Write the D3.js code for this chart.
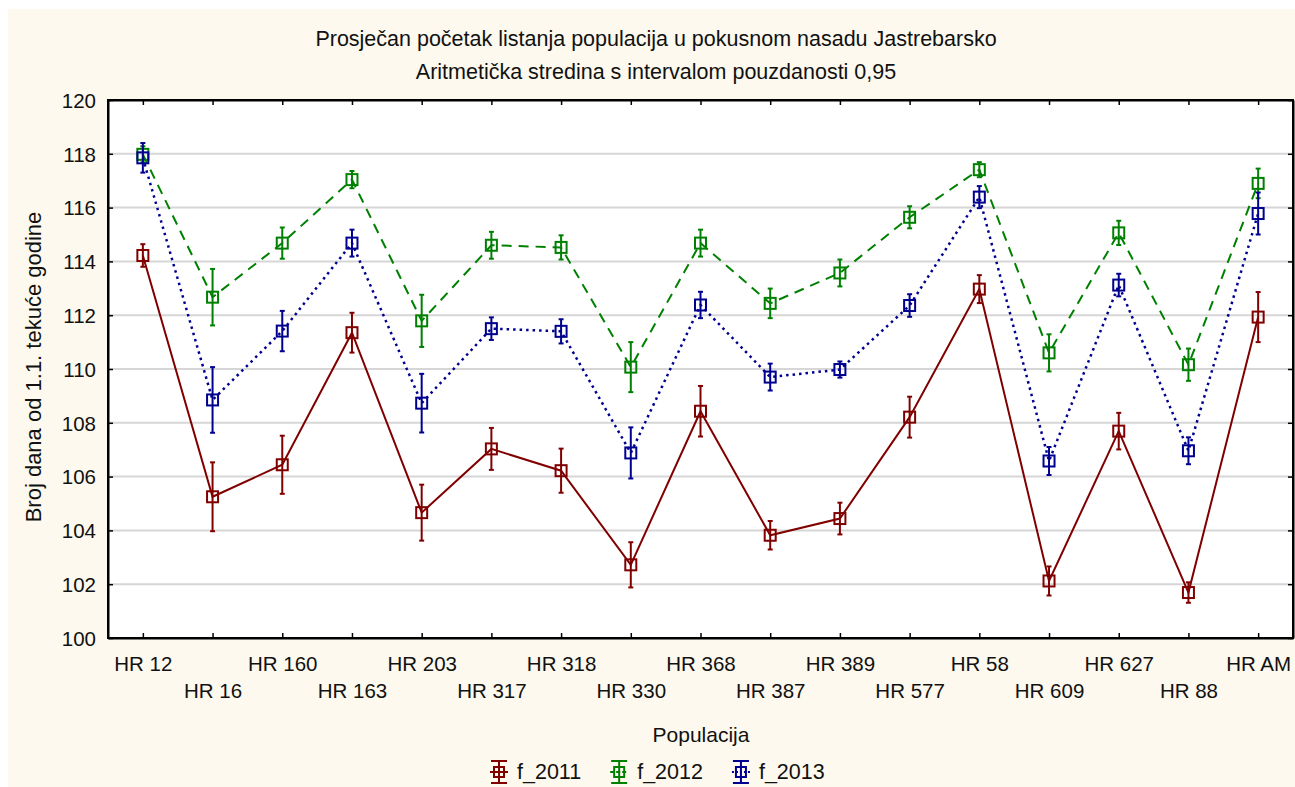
<!DOCTYPE html>
<html>
<head>
<meta charset="utf-8">
<script src="https://cdn.jsdelivr.net/npm/d3@7"></script>
<style>
  body { margin: 0; background: #ffffff; }
  svg text { font-family: "Liberation Sans", Arial, sans-serif; fill: #111; }
</style>
</head>
<body>
<svg id="chart" width="1295" height="787"></svg>
<script>
// categories (populations)
var populations = ["HR 12", "HR 16", "HR 160", "HR 163", "HR 203", "HR 317", "HR 318", "HR 330",
  "HR 368", "HR 387", "HR 389", "HR 577", "HR 58", "HR 609", "HR 627", "HR 88", "HR AM"];

// means per year
var f2011 = [114.22, 105.25, 106.44, 111.35, 104.66, 107.03, 106.22, 102.72, 108.43, 103.82, 104.44, 108.21, 112.97, 102.12, 107.69, 101.69, 111.93];
var f2012 = [117.98, 112.67, 114.68, 117.04, 111.79, 114.60, 114.52, 110.07, 114.68, 112.44, 113.57, 115.64, 117.41, 110.60, 115.06, 110.16, 116.90];
var f2013 = [117.85, 108.85, 111.41, 114.68, 108.73, 111.50, 111.40, 106.88, 112.38, 109.70, 109.98, 112.36, 116.39, 106.58, 113.12, 106.96, 115.78];

// half width of the 0.95 confidence interval
var ci2011 = [0.42, 1.28, 1.08, 0.74, 1.04, 0.78, 0.82, 0.84, 0.94, 0.53, 0.59, 0.76, 0.52, 0.54, 0.68, 0.38, 0.93];
var ci2012 = [0.30, 1.05, 0.58, 0.32, 0.97, 0.50, 0.45, 0.93, 0.50, 0.55, 0.50, 0.41, 0.28, 0.69, 0.45, 0.60, 0.55];
var ci2013 = [0.55, 1.22, 0.75, 0.50, 1.09, 0.42, 0.45, 0.95, 0.49, 0.50, 0.30, 0.42, 0.41, 0.52, 0.42, 0.50, 0.78];

var seriesNames = ["f_2011", "f_2012", "f_2013"];
var yTicks = [100, 102, 104, 106, 108, 110, 112, 114, 116, 118, 120];

var titleLines = ["Prosječan početak listanja populacija u pokusnom nasadu Jastrebarsko",
  "Aritmetička stredina s intervalom pouzdanosti 0,95"];
var xTitle = "Populacija";
var yTitle = "Broj dana od 1.1. tekuće godine";

var chart = (function(){

  var svg = d3.select("#chart");
  var plot = { left: 108, right: 1293, top: 100, bottom: 638 };
  var styles = [
    { color: "#800000", dash: null, width: 2 },
    { color: "#008000", dash: "10,7", width: 2 },
    { color: "#000090", dash: "2.5,4", width: 2.5 }
  ];
  var series = [
    { name: seriesNames[0], means: f2011, ci: ci2011 },
    { name: seriesNames[1], means: f2012, ci: ci2012 },
    { name: seriesNames[2], means: f2013, ci: ci2013 }
  ];

  var x = d3.scalePoint().domain(populations).range([plot.left, plot.right]).padding(0.5);
  var y = d3.scaleLinear().domain([100, 120]).range([plot.bottom, plot.top]);

  function draw_frame(){
    svg.append("rect").attr("x", 8).attr("y", 9).attr("width", 1287).attr("height", 778)
      .attr("fill", "#fdf9ee");
    svg.append("rect").attr("x", plot.left).attr("y", plot.top)
      .attr("width", plot.right - plot.left).attr("height", plot.bottom - plot.top)
      .attr("fill", "#ffffff");

    // horizontal grid
    svg.append("g").selectAll("line").data(yTicks.slice(1, -1)).enter().append("line")
      .attr("x1", plot.left).attr("x2", plot.right)
      .attr("y1", function(d){ return y(d); }).attr("y2", function(d){ return y(d); })
      .attr("stroke", "#d6d6d6").attr("stroke-width", 2);
  }

  function draw_axes(){
    var left = svg.append("g").attr("transform", "translate(" + plot.left + ",0)")
      .call(d3.axisLeft(y).tickValues(yTicks).tickSizeInner(-5).tickSizeOuter(0).tickPadding(12));
    var right = svg.append("g").attr("transform", "translate(" + plot.right + ",0)")
      .call(d3.axisRight(y).tickValues(yTicks).tickSizeInner(-5).tickSizeOuter(0).tickFormat(""));
    var bottom = svg.append("g").attr("transform", "translate(0," + plot.bottom + ")")
      .call(d3.axisBottom(x).tickSizeInner(-5).tickSizeOuter(0));
    var top = svg.append("g").attr("transform", "translate(0," + plot.top + ")")
      .call(d3.axisTop(x).tickSizeInner(-5).tickSizeOuter(0).tickFormat(""));

    [left, right, bottom, top].forEach(function(g){
      g.selectAll("path").attr("stroke", "#000").attr("stroke-width", 2);
      g.selectAll("line").attr("stroke", "#000").attr("stroke-width", 1.5);
      g.selectAll("text").style("font-size", "20.5px").attr("fill", "#111");
    });
    left.selectAll("text").attr("dy", "0.36em");

    // alternate category labels on two rows
    bottom.selectAll("text")
      .attr("dy", null)
      .attr("y", function(d, i){ return i % 2 === 0 ? 33 : 60; });

    // close the frame
    svg.append("rect").attr("x", plot.left).attr("y", plot.top)
      .attr("width", plot.right - plot.left).attr("height", plot.bottom - plot.top)
      .attr("fill", "none").attr("stroke", "#000").attr("stroke-width", 2);
  }

  function draw_series(s, k){
    var st = styles[k];
    var g = svg.append("g").attr("class", "series-" + k);
    var pts = s.means.map(function(m, i){ return { cat: populations[i], m: m, ci: s.ci[i] }; });

    var line = d3.line().x(function(d){ return x(d.cat); }).y(function(d){ return y(d.m); });
    g.append("path").datum(pts).attr("d", line)
      .attr("fill", "none").attr("stroke", st.color).attr("stroke-width", st.width)
      .attr("stroke-dasharray", st.dash);

    var bars = g.selectAll("g.bar").data(pts).enter().append("g").attr("class", "bar");
    bars.append("line")
      .attr("x1", function(d){ return x(d.cat); }).attr("x2", function(d){ return x(d.cat); })
      .attr("y1", function(d){ return y(d.m + d.ci); }).attr("y2", function(d){ return y(d.m - d.ci); })
      .attr("stroke", st.color).attr("stroke-width", 2);
    [1, -1].forEach(function(sign){
      bars.append("line")
        .attr("x1", function(d){ return x(d.cat) - 2.5; }).attr("x2", function(d){ return x(d.cat) + 2.5; })
        .attr("y1", function(d){ return y(d.m + sign * d.ci); }).attr("y2", function(d){ return y(d.m + sign * d.ci); })
        .attr("stroke", st.color).attr("stroke-width", 2);
    });
    bars.append("rect")
      .attr("x", function(d){ return x(d.cat) - 5.5; }).attr("y", function(d){ return y(d.m) - 5.5; })
      .attr("width", 11).attr("height", 11)
      .attr("fill", "none").attr("stroke", st.color).attr("stroke-width", 2);
  }

  function draw_texts(){
    svg.selectAll("text.title").data(titleLines).enter().append("text").attr("class", "title")
      .attr("x", 656).attr("y", function(d, i){ return 46 + i * 33; })
      .attr("text-anchor", "middle").style("font-size", "21.5px").text(function(d){ return d; });

    svg.append("text").attr("x", 701).attr("y", 742).attr("text-anchor", "middle")
      .style("font-size", "21px").text(xTitle);

    svg.append("text").attr("transform", "translate(41,367) rotate(-90)")
      .attr("text-anchor", "middle").style("font-size", "22px").text(yTitle);
  }

  function draw_legend(){
    var lx = 490, ly = 772;
    series.forEach(function(s, k){
      var st = styles[k];
      var g = svg.append("g").attr("transform", "translate(" + lx + "," + ly + ")");
      g.append("line").attr("x1", 9).attr("x2", 9).attr("y1", -11).attr("y2", 11)
        .attr("stroke", st.color).attr("stroke-width", 2);
      [-11, 11].forEach(function(yy){
        g.append("line").attr("x1", 1).attr("x2", 17).attr("y1", yy).attr("y2", yy)
          .attr("stroke", st.color).attr("stroke-width", 2);
      });
      g.append("line").attr("x1", 0).attr("x2", 18).attr("y1", 0).attr("y2", 0)
        .attr("stroke", st.color).attr("stroke-width", 2).attr("stroke-dasharray", k === 2 ? "2,2" : (k === 1 ? "4,2" : null));
      g.append("rect").attr("x", 4).attr("y", -5).attr("width", 10).attr("height", 10)
        .attr("fill", "none").attr("stroke", st.color).attr("stroke-width", 2);
      var t = g.append("text").attr("x", 27).attr("y", 7).style("font-size", "21.5px").text(s.name);
      lx += 27 + t.node().getComputedTextLength() + 29;
    });
  }

  draw_frame();
  draw_axes();
  series.forEach(draw_series);
  draw_texts();
  draw_legend();

  return null;
})();
</script>
</body>
</html>
